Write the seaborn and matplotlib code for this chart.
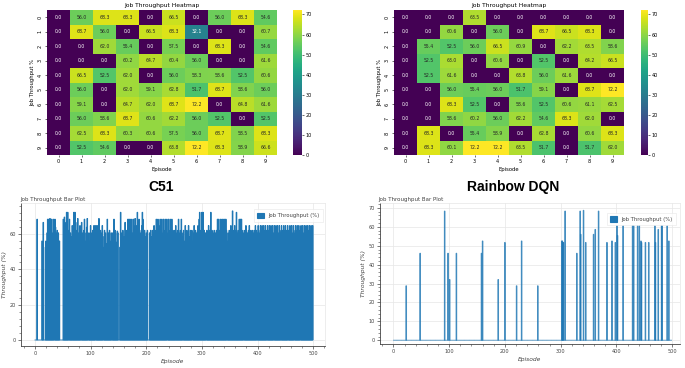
import numpy as np
import pandas as pd
import matplotlib
matplotlib.use("Agg")
import matplotlib.pyplot as plt
import seaborn as sns
from matplotlib.ticker import MultipleLocator

# ---------------- data ----------------
heat_cols = list(range(10))
heat_rows = list(range(10))

c51_heat = [
    [0.0, 56.0, 68.3, 68.3, 0.0, 66.5, 0.0, 56.0, 68.3, 54.6],
    [0.0, 68.7, 56.0, 0.0, 66.5, 68.3, 32.1, 0.0, 0.0, 60.7],
    [0.0, 0.0, 62.0, 55.4, 0.0, 57.5, 0.0, 68.3, 0.0, 54.6],
    [0.0, 0.0, 0.0, 60.2, 64.7, 60.4, 56.0, 0.0, 0.0, 61.6],
    [0.0, 66.5, 52.5, 62.0, 0.0, 56.0, 58.3, 58.6, 52.5, 60.6],
    [0.0, 56.0, 0.0, 62.0, 59.1, 62.8, 51.7, 68.7, 58.6, 56.0],
    [0.0, 59.1, 0.0, 64.7, 62.0, 68.7, 72.2, 0.0, 64.8, 61.6],
    [0.0, 56.0, 58.6, 68.7, 60.6, 62.2, 56.0, 52.5, 0.0, 52.5],
    [0.0, 62.5, 68.3, 60.3, 60.6, 57.5, 56.0, 68.7, 58.5, 68.3],
    [0.0, 52.5, 54.6, 0.0, 0.0, 63.8, 72.2, 68.3, 58.9, 66.6],
]

rainbow_heat = [
    [0.0, 0.0, 0.0, 63.5, 0.0, 0.0, 0.0, 0.0, 0.0, 0.0],
    [0.0, 0.0, 60.6, 0.0, 56.0, 0.0, 68.7, 66.5, 68.3, 0.0],
    [0.0, 55.4, 52.5, 56.0, 66.5, 60.9, 0.0, 62.2, 63.5, 58.6],
    [0.0, 52.5, 63.0, 0.0, 60.6, 0.0, 52.5, 0.0, 64.2, 66.5],
    [0.0, 52.5, 61.6, 0.0, 0.0, 63.8, 56.0, 61.6, 0.0, 0.0],
    [0.0, 0.0, 56.0, 55.4, 56.0, 51.7, 59.1, 0.0, 68.7, 72.2],
    [0.0, 0.0, 68.3, 52.5, 0.0, 58.6, 52.5, 60.6, 61.1, 62.5],
    [0.0, 0.0, 58.6, 60.2, 56.0, 62.2, 54.6, 68.3, 62.0, 0.0],
    [0.0, 68.3, 0.0, 55.4, 58.9, 0.0, 62.8, 0.0, 60.6, 68.3],
    [0.0, 68.3, 60.1, 72.2, 72.2, 63.5, 51.7, 0.0, 51.7, 62.0],
]

# C51 per-episode throughput (%), episodes 0..499
c51_throughput = [
    0, 0, 0, 0, 68.3, 0, 0, 0, 0, 0,
    0, 0, 0, 56.0, 54.6, 66.5, 0, 0, 0, 52.5,
    56.0, 48.0, 60.6, 68.3, 52.5, 68.3, 62.0, 68.7, 68.3, 52.5,
    68.3, 60.6, 56.0, 68.3, 62.0, 0, 68.3, 63.8, 52.5, 60.6,
    62.0, 54.6, 60.6, 52.5, 56.0, 0, 0, 0, 0, 0,
    0, 68.3, 52.5, 69.5, 66.5, 60.6, 56.0, 72.2, 52.5, 72.2,
    62.0, 0, 68.3, 52.5, 60.6, 58.6, 55.4, 64.7, 58.6, 52.5,
    72.2, 68.3, 72.2, 54.6, 52.5, 62.0, 66.5, 68.7, 60.6, 52.5,
    56.0, 64.7, 52.5, 0, 66.5, 58.6, 60.6, 52.5, 62.0, 68.3,
    52.5, 56.0, 60.6, 63.8, 68.7, 52.5, 0, 60.6, 56.0, 52.5,
    64.7, 60.6, 58.6, 52.5, 62.0, 56.0, 64.7, 52.5, 64.7, 0,
    64.7, 56.0, 52.5, 64.7, 60.6, 68.7, 52.5, 56.0, 62.0, 60.6,
    52.5, 64.7, 58.6, 0, 52.5, 62.0, 56.0, 60.6, 52.5, 54.6,
    68.3, 56.0, 60.6, 52.5, 62.0, 56.0, 54.6, 60.6, 0, 56.0,
    60.6, 52.5, 68.3, 56.0, 62.0, 60.6, 55.4, 52.5, 61.6, 60.6,
    0, 0, 0, 52.5, 72.2, 60.6, 52.5, 56.0, 62.0, 52.5,
    58.6, 52.5, 66.5, 60.6, 56.0, 62.0, 52.5, 68.3, 60.6, 68.3,
    52.5, 68.3, 62.0, 56.0, 68.3, 60.6, 52.5, 68.3, 64.7, 56.0,
    68.7, 60.6, 52.5, 64.7, 72.2, 56.0, 62.0, 68.3, 54.6, 60.6,
    56.0, 62.0, 64.7, 72.2, 68.3, 60.6, 52.5, 62.0, 58.6, 56.0,
    60.6, 52.5, 62.0, 0, 0, 0, 60.6, 58.6, 62.0, 56.0,
    58.6, 62.0, 60.6, 52.5, 64.7, 60.6, 56.0, 62.0, 68.3, 60.6,
    62.0, 68.3, 56.0, 64.7, 60.6, 68.3, 52.5, 62.0, 68.3, 56.0,
    60.6, 68.3, 62.0, 58.6, 68.3, 56.0, 64.7, 68.3, 0, 60.6,
    68.3, 62.0, 56.0, 68.3, 60.6, 64.7, 68.3, 52.5, 62.0, 60.6,
    56.0, 62.0, 58.6, 64.7, 52.5, 60.6, 62.0, 56.0, 68.3, 60.6,
    52.5, 62.0, 56.0, 68.3, 60.6, 58.6, 0, 62.0, 56.0, 52.5,
    64.7, 60.6, 56.0, 62.0, 52.5, 60.6, 64.7, 58.6, 56.0, 62.0,
    60.6, 52.5, 62.0, 0, 56.0, 60.6, 64.7, 52.5, 62.0, 58.6,
    60.6, 56.0, 62.0, 64.7, 52.5, 68.3, 72.2, 60.6, 62.0, 56.0,
    72.2, 64.7, 72.2, 56.0, 62.0, 52.5, 60.6, 58.6, 0, 62.0,
    56.0, 60.6, 64.7, 52.5, 62.0, 60.6, 72.2, 56.0, 62.0, 54.6,
    60.6, 56.0, 62.0, 52.5, 60.6, 58.6, 62.0, 56.0, 68.3, 60.6,
    68.3, 62.0, 56.0, 68.3, 64.7, 60.6, 68.3, 52.5, 68.3, 62.0,
    56.0, 68.3, 60.6, 68.3, 62.0, 0, 56.0, 60.6, 52.5, 62.0,
    60.6, 56.0, 64.7, 62.0, 56.0, 73.0, 62.0, 60.6, 52.5, 64.7,
    60.6, 62.0, 72.2, 56.0, 60.6, 62.0, 52.5, 68.3, 64.7, 68.3,
    60.6, 68.3, 62.0, 56.0, 60.6, 0, 62.0, 58.6, 60.6, 64.7,
    62.0, 56.0, 60.6, 58.6, 62.0, 64.7, 60.6, 52.5, 62.0, 60.6,
    56.0, 62.0, 46.0, 60.6, 62.0, 52.5, 64.7, 60.6, 62.0, 0,
    60.6, 64.7, 62.0, 52.5, 60.6, 64.7, 56.0, 62.0, 64.7, 60.6,
    52.5, 64.7, 62.0, 60.6, 64.7, 56.0, 62.0, 0, 64.7, 60.6,
    62.0, 64.7, 56.0, 60.6, 64.7, 62.0, 52.5, 64.7, 60.6, 0,
    64.7, 62.0, 60.6, 64.7, 56.0, 62.0, 64.7, 52.5, 60.6, 64.7,
    62.0, 60.6, 0, 64.7, 56.0, 62.0, 60.6, 64.7, 52.5, 62.0,
    64.7, 60.6, 62.0, 56.0, 64.7, 0, 62.0, 60.6, 64.7, 52.5,
    62.0, 64.7, 60.6, 56.0, 64.7, 62.0, 0, 60.6, 64.7, 62.0,
    56.0, 64.7, 60.6, 62.0, 64.7, 52.5, 62.0, 0, 64.7, 60.6,
    62.0, 64.7, 51.7, 60.6, 64.7, 62.0, 60.6, 64.7, 62.0, 58.6,
    64.7, 60.6, 62.0, 64.7, 58.6, 62.0, 64.7, 60.6, 62.0, 64.7,
]

# Rainbow DQN: episodes with non-zero throughput (all others are 0)
rainbow_spike_episodes = [23, 48, 92, 98, 101, 113, 158, 160, 188, 200, 221, 230, 259,
                          302, 303, 304, 305, 308, 329, 335, 336, 341, 345, 359, 362,
                          368, 383, 392, 398, 401, 402, 412, 429, 431, 438, 441, 444,
                          445, 452, 458, 469, 470, 475, 481, 482, 491, 494]
rainbow_spike_values = [28.8, 46.0, 68.3, 46.0, 32.1, 46.0, 46.0, 52.5, 32.1, 51.7, 28.8, 52.5, 28.8,
                        52.5, 52.5, 51.7, 51.7, 68.3, 46.0, 68.3, 56.0, 68.7, 51.7, 56.0, 58.6,
                        68.3, 51.7, 52.5, 51.7, 60.6, 55.4, 60.6, 60.6, 60.6, 60.6, 60.6, 52.5,
                        51.7, 51.7, 51.7, 60.6, 51.7, 58.6, 60.6, 60.6, 60.6, 52.5]
n_episodes = 500

# ---------------- figure ----------------
W, H = 685, 368
fig = plt.figure(figsize=(W / 100, H / 100), dpi=100)
fig.patch.set_facecolor("white")


def add_ax(x0, y0, x1, y1):
    return fig.add_axes([x0 / W, 1 - y1 / H, (x1 - x0) / W, (y1 - y0) / H])


def heat_panel(grid, x0, x1, cx0, cx1):
    ax = add_ax(x0, 10, x1, 155)
    cax = add_ax(cx0, 10, cx1, 155)
    df = pd.DataFrame(grid, index=heat_rows, columns=heat_cols)
    sns.heatmap(df, ax=ax, cbar_ax=cax, cmap="viridis", annot=True, fmt=".1f",
                xticklabels=heat_cols, yticklabels=heat_rows,
                annot_kws={"size": 3.3})
    ax.set_title("Job Throughput Heatmap", fontsize=4.3, pad=2.5)
    ax.set_xlabel("Episode", fontsize=3.8, labelpad=2)
    ax.set_ylabel("Job Throughput %", fontsize=3.8, labelpad=2)
    ax.tick_params(labelsize=3.5, length=1.5, width=0.4, pad=1.5)
    cax.tick_params(labelsize=3.5, length=1.5, width=0.4, pad=1)
    cax.yaxis.set_major_locator(MultipleLocator(10))


heat_panel(c51_heat, 47, 277, 293, 302)
heat_panel(rainbow_heat, 394, 624, 641, 648)

grey = "#444444"
light = "#e6e6e6"
blue = "#1f77b4"


def bar_panel(vals, rect, xlim, ylim, ymaj, ymin, title, title_xy, sub_xy, leg_anchor, alpha):
    ax = add_ax(*rect)
    eps = np.arange(len(vals))
    sns.barplot(x=eps, y=vals, native_scale=True, color=blue, saturation=1, width=0.9,
                errorbar=None, edgecolor=blue, linewidth=0.8, alpha=alpha, ax=ax,
                label="Job Throughput (%)")
    for p in ax.patches:
        p.set_snap(False)
    ax.set_xlim(*xlim)
    ax.set_ylim(*ylim)
    ax.xaxis.set_major_locator(MultipleLocator(100))
    ax.xaxis.set_minor_locator(MultipleLocator(20))
    ax.yaxis.set_major_locator(MultipleLocator(ymaj))
    ax.yaxis.set_minor_locator(MultipleLocator(ymin))
    ax.grid(True, which="major", color=light, linewidth=0.5)
    ax.set_axisbelow(True)
    for s in ("top", "right"):
        ax.spines[s].set_color(light)
        ax.spines[s].set_linewidth(0.5)
    for s in ("left", "bottom"):
        ax.spines[s].set_color(grey)
        ax.spines[s].set_linewidth(0.6)
    ax.tick_params(which="major", direction="out", length=2.2, width=0.5, colors=grey,
                   labelsize=3.6, pad=1.5)
    ax.tick_params(which="minor", direction="out", length=1.2, width=0.4, colors=grey)
    ax.set_xlabel("Episode", fontsize=4.3, style="italic", color=grey, labelpad=2)
    ax.set_ylabel("Throughput (%)", fontsize=4.3, style="italic", color=grey, labelpad=2)
    leg = ax.legend(loc="upper right", bbox_to_anchor=leg_anchor, borderaxespad=0,
                    fontsize=3.8, frameon=True, fancybox=False, edgecolor=light,
                    handlelength=1.3, handleheight=1.3, borderpad=0.6, labelcolor=grey)
    leg.get_frame().set_linewidth(0.5)
    for h in leg.legend_handles:
        h.set_alpha(1)
    fig.text(title_xy[0] / W, 1 - title_xy[1] / H, title, fontsize=10, fontweight="bold",
             family="Liberation Sans", ha="center", va="center")
    fig.text(sub_xy[0] / W, 1 - sub_xy[1] / H, "Job Throughput Bar Plot", fontsize=4.0,
             color=grey, ha="left", va="center")
    return ax


bar_panel(c51_throughput, (21, 203, 325, 346), (-25, 521), (-3.4, 77.5), 20, 4,
          "C51", (161, 187), (20, 199), (0.993, 0.955), 1.0)

rainbow_vals = np.zeros(n_episodes)
for e, v in zip(rainbow_spike_episodes, rainbow_spike_values):
    rainbow_vals[e] = v
bar_panel(list(rainbow_vals), (380, 203, 680, 344), (-24, 514), (-1.96, 72.6), 10, 2,
          "Rainbow DQN", (513, 187), (378, 199), (0.985, 0.93), 0.75)

fig.savefig("out.png", dpi=100, facecolor="white")
